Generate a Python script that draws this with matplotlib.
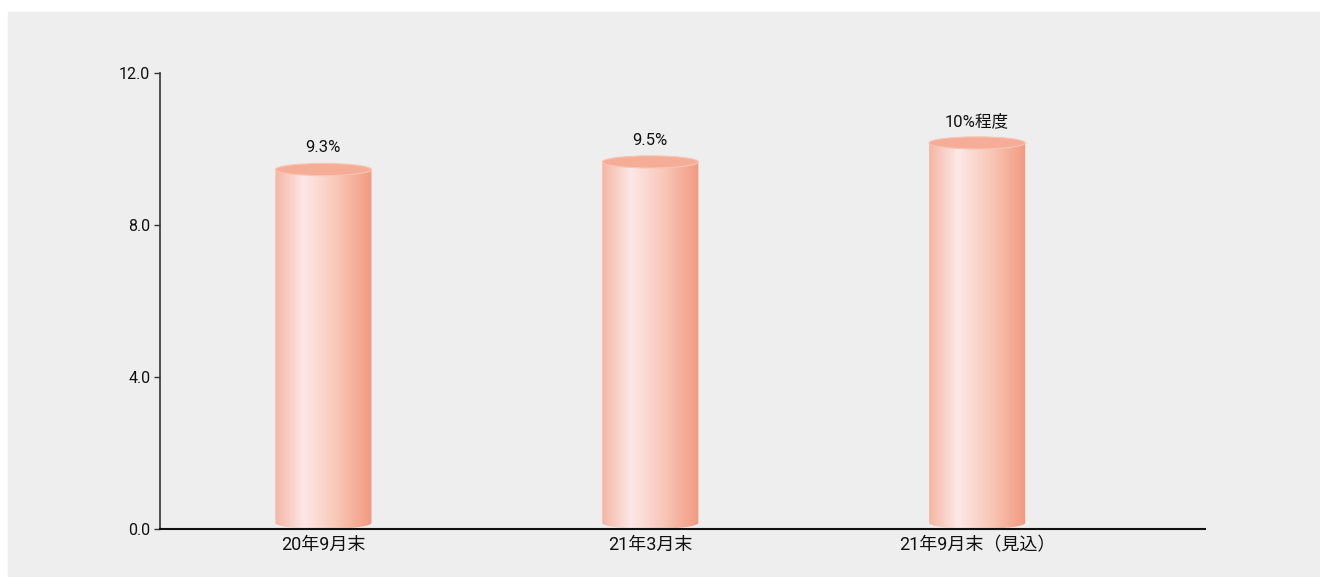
import numpy as np
import matplotlib
matplotlib.use("Agg")
import matplotlib.pyplot as plt
from matplotlib.colors import LinearSegmentedColormap
from matplotlib.patches import Ellipse, PathPatch
from matplotlib.path import Path

plt.rcParams['font.family'] = ['Roboto', 'Noto Sans CJK JP', 'DejaVu Sans']

# データ
categories = ['20年9月末', '21年3月末', '21年9月末（見込）']
values = [9.3, 9.5, 10.0]
value_labels = ['9.3%', '9.5%', '10%程度']
yticks = [0.0, 4.0, 8.0, 12.0]

BG = '#eeeeee'
bar_w = 0.294
ry = 0.16      # 楕円の縦半径（データ単位）
base = 0.16    # 円柱の底

cmap = LinearSegmentedColormap.from_list(
    'cyl', [(0, '#f5b6a5'), (0.3, '#fde8e7'), (0.65, '#f8c6b6'), (1, '#f29a80')])

fig = plt.figure(figsize=(13.2, 5.77), dpi=100)
fig.patches.append(plt.Rectangle((8 / 1320, 0), 1, (577 - 12) / 577,
                                 transform=fig.transFigure, color=BG, zorder=-10))
ax = fig.add_axes([160 / 1320, (577 - 529) / 577, 1045 / 1320, 456 / 577])
ax.set_facecolor(BG)

grad = np.linspace(0, 1, 256).reshape(1, -1)
for i, (v, lab) in enumerate(zip(values, value_labels)):
    x0, x1 = i - bar_w / 2, i + bar_w / 2
    top = v + base
    t = np.linspace(np.pi, 2 * np.pi, 60)
    arc = np.column_stack([i + bar_w / 2 * np.cos(t), base + ry * np.sin(t)])
    verts = np.vstack([[x0, top], arc, [x1, top], [x0, top]])
    codes = [Path.MOVETO] + [Path.LINETO] * (len(verts) - 2) + [Path.CLOSEPOLY]
    clip = PathPatch(Path(verts, codes), facecolor='none', edgecolor='none')
    ax.add_patch(clip)
    im = ax.imshow(grad, cmap=cmap, aspect='auto', extent=[x0, x1, base - ry, top],
                   zorder=2, interpolation='bilinear')
    im.set_clip_path(clip)
    ax.add_patch(Ellipse((i, top), bar_w, 2 * ry, facecolor='#f6ad98',
                         edgecolor='#f8c4b4', lw=0.8, zorder=3))
    ax.annotate(lab, (i, top), xytext=(0, 15.5), textcoords='offset points',
                ha='center', va='center', fontsize=12, color='#111111')

ax.set_xlim(-0.5, 2.697)
ax.set_ylim(0, 12)
ax.set_xticks(range(len(categories)))
ax.set_xticklabels(categories, fontsize=13)
ax.set_yticks(yticks)
ax.set_yticklabels([f'{y:.1f}' for y in yticks], fontsize=11.5)
ax.tick_params(axis='x', length=0, pad=5, colors='#111111')
ax.tick_params(axis='y', length=4, width=1, pad=3, color='#333333', labelcolor='#111111')
for s in ['top', 'right']:
    ax.spines[s].set_visible(False)
ax.spines['left'].set_color('#333333')
ax.spines['bottom'].set_color('#111111')
ax.spines['left'].set_linewidth(1.2)
ax.spines['bottom'].set_linewidth(1.5)

fig.savefig('out.png', dpi=100, facecolor='white')
